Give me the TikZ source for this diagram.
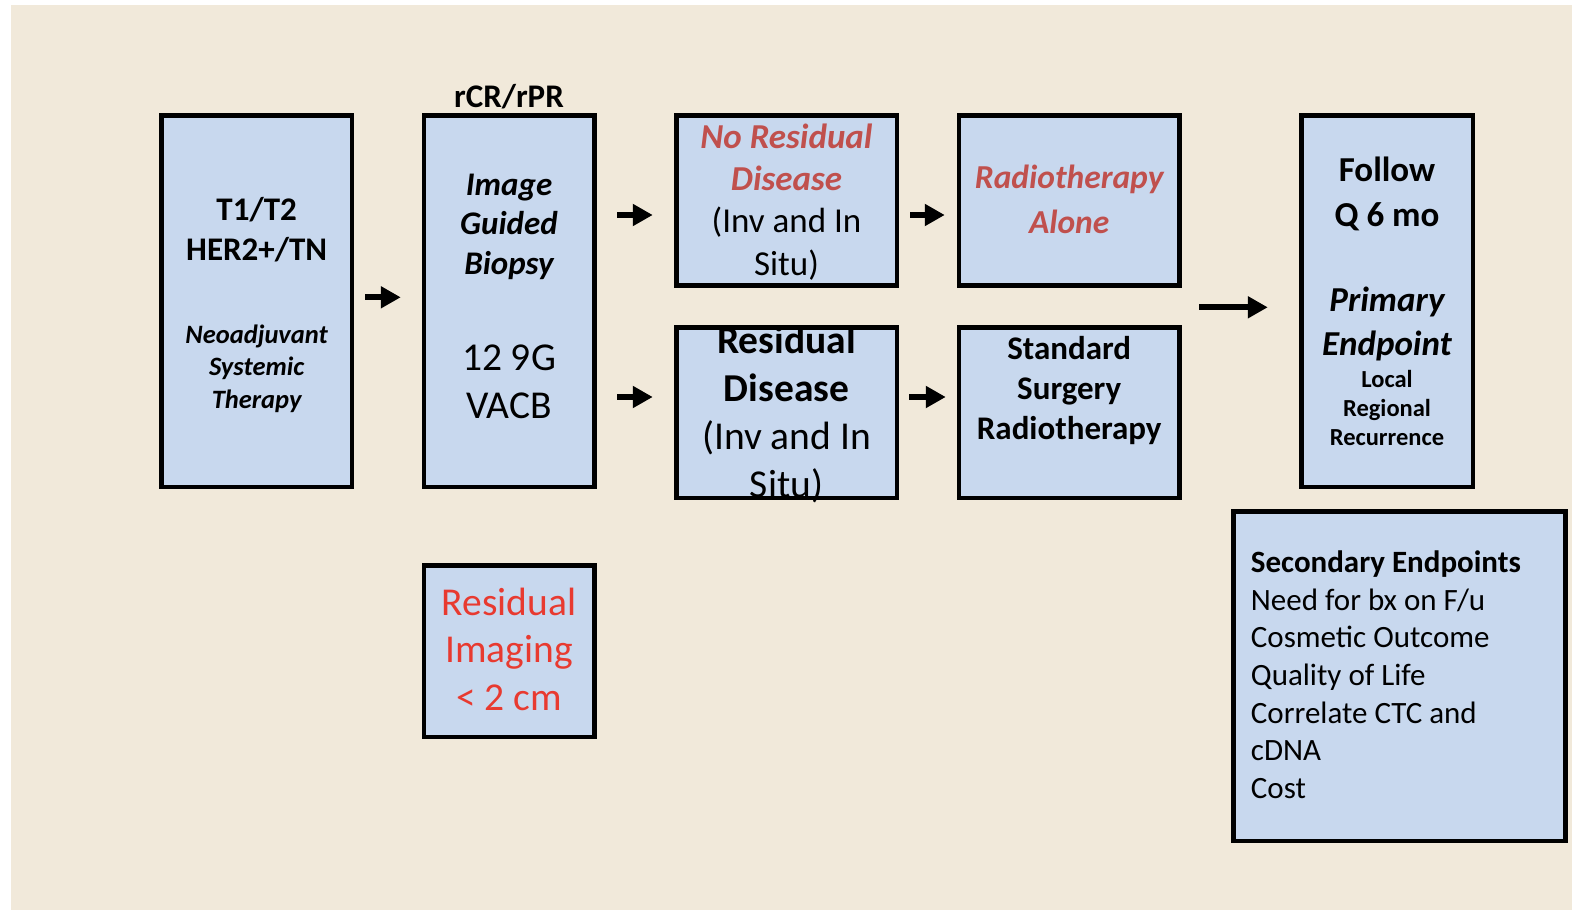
\documentclass[tikz,border=0pt]{standalone}
\usepackage{fontspec}
\setmainfont{Carlito}
\usetikzlibrary{arrows.meta}
\definecolor{bg}{HTML}{F1E9DA}
\definecolor{boxfill}{HTML}{C8D8EE}
\definecolor{darkred}{HTML}{C0504D}
\definecolor{brightred}{HTML}{E83A30}
\newcommand\fsz[2]{\fontsize{#1}{#2}\selectfont\spaceskip=.226em\relax\xspaceskip=.226em\relax}
\begin{document}
\begin{tikzpicture}[x=1pt,y=-1pt,
  box/.style={draw=black, line width=4.5pt, fill=boxfill, inner sep=0pt},
  txt/.style={anchor=base, align=center, inner sep=0pt, text=black},
  arr/.style={line width=6pt, -{Triangle[length=20pt,width=21pt]}}]
\useasboundingbox (0,0) rectangle (1572,910);
\fill[white] (0,0) rectangle (1572,910);
\fill[bg] (11,5) rectangle (1572,910);

% boxes
\node[box, minimum width=190.2pt, minimum height=371.5pt] (b1) at (256.65,301) {};
\node[box, minimum width=170.5pt, minimum height=371.5pt] (b2) at (509,301) {};
\node[box, minimum width=220.5pt, minimum height=169.9pt] (b3) at (786.5,200.5) {};
\node[box, minimum width=220.5pt, minimum height=169.9pt] (b4) at (1069.2,200.5) {};
\node[box, minimum width=220.5pt, minimum height=170.5pt] (b5) at (786.5,412.5) {};
\node[box, minimum width=220.5pt, minimum height=170.5pt] (b6) at (1069.2,412.5) {};
\node[box, minimum width=171.5pt, minimum height=371.5pt] (b7) at (1387,301) {};
\node[box, minimum width=332pt, minimum height=329.5pt] (b8) at (1399.25,676) {};
\node[box, minimum width=170.5pt, minimum height=171.2pt] (b9) at (509,651.15) {};

% texts
\node[txt, font=\fsz{33}{40}\bfseries] (lab) at (509,107) {rCR/rPR};
\node[txt, text width=186pt] (t1) at (256.65,220)
  {{\fsz{33}{40}\bfseries T1/T2\\HER2+/TN\par}\vspace{50.8pt}%
   {\fsz{26.5}{32.5}\bfseries\itshape Neoadjuvant\\Systemic\\Therapy\par}};
\node[txt, text width=168pt] (t2) at (509,195)
  {{\fsz{33}{39.7}\bfseries\itshape Image\\Guided\\Biopsy\par}\vspace{49.1pt}%
   {\fsz{39.5}{47.3}12 9G\\VACB\par}};
\node[txt, text width=218pt] (t3) at (786.5,148.3)
  {{\fsz{35}{42.3}\bfseries\itshape\leavevmode\color{darkred}No Residual\\Disease\par}%
   {\fsz{35}{42.3}(Inv and In\\Situ)\par}};
\node[txt, text width=218pt] (t4) at (1069.2,188.5)
  {{\fsz{33.5}{45}\bfseries\itshape\leavevmode\color{darkred}Radiotherapy\\Alone\par}};
\node[txt, text width=218pt] (t5) at (786.5,353)
  {{\fsz{39.5}{48}\bfseries Residual\\Disease\par}%
   {\fsz{39.5}{48}(Inv and In\\Situ)\par}};
\node[txt, text width=218pt] (t6) at (1069.2,359.3)
  {{\fsz{33}{40}\bfseries Standard\\Surgery\\Radiotherapy\par}};
\node[txt, text width=168pt] (t7) at (1387,181.7)
  {{\fsz{35}{44.3}\bfseries Follow\\Q 6 mo\par}\vspace{42.4pt}%
   {\fsz{35}{43.3}\bfseries\itshape Primary\\Endpoint\par}\vspace{3pt}%
   {\fsz{24.5}{29.3}\bfseries Local\\Regional\\Recurrence\par}};
\node[txt, anchor=base west, align=left, text width=312pt] (t8) at (1250.7,572.7)
  {{\fsz{31}{37.6}\bfseries Secondary Endpoints\par}%
   {\fsz{31}{37.6}Need for bx on F/u\\Cosmetic Outcome\\Quality of Life\\Correlate CTC and\\cDNA\\Cost\par}};
\node[txt, text width=168pt] (t9) at (509,615)
  {{\fsz{39.5}{47.8}\leavevmode\color{brightred}Residual\\Imaging\\< 2 cm\par}};

% arrows
\coordinate (ya) at (0,297.3);
\coordinate (yb) at (0,215);
\coordinate (yc) at (0,397);
\coordinate (a6s) at (1199,307.3);
\draw[arr, shorten <=11.25pt, shorten >=20.75pt] (b1.east |- ya) -- (b2.west |- ya);
\draw[arr, shorten <=20.75pt, shorten >=21.25pt] (b2.east |- yb) -- (b3.west |- yb);
\draw[arr, shorten <=20.75pt, shorten >=21.25pt] (b2.east |- yc) -- (b5.west |- yc);
\draw[arr, shorten <=11.25pt, shorten >=11.95pt] (b3.east |- yb) -- (b4.west |- yb);
\draw[arr, shorten <=10.25pt, shorten >=10.95pt] (b5.east |- yc) -- (b6.west |- yc);
\draw[arr, shorten >=31.25pt] (a6s) -- (b7.west |- a6s);
\end{tikzpicture}
\end{document}
